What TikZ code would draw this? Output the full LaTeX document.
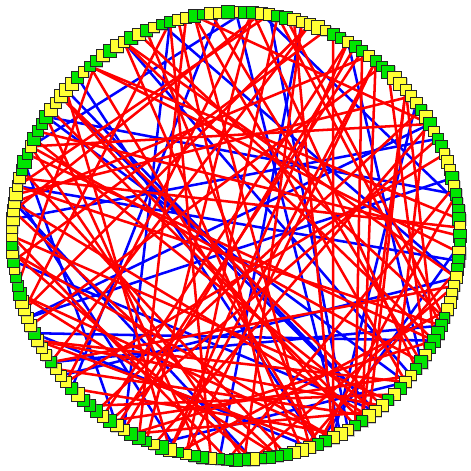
\documentclass[tikz,border=0pt]{standalone}
\usepackage{xcolor}
\usepackage{tikz}
\usetikzlibrary{backgrounds,shadows}

\definecolor{vgreen}{RGB}{0,230,0}
\definecolor{vyellow}{RGB}{255,255,51}

\begin{document}
\begin{tikzpicture}[
        vertex/.style={
            rectangle,
            draw=black!85,
            line width=0.7pt,
            inner sep=0pt,
            drop shadow={shadow xshift=0.6pt, shadow yshift=-0.6pt, opacity=0.4}
        },
        gvertex/.style={vertex, fill=vgreen},
        yvertex/.style={vertex, fill=vyellow},
        redge/.style={draw=red, line width=1.8pt},
        bedge/.style={draw=blue, line width=1.8pt}
    ]
        \useasboundingbox (-5.9,-5.875) rectangle (5.875,5.9);
        \pgfmathsetseed{4711}

        % Vertices on the ring
        \foreach \i in {1,...,168}{
            \pgfmathsetmacro{\ang}{90-360*((\i-1)/168)}
            \pgfmathtruncatemacro{\sz}{26+random(0,7)}
            \pgfmathtruncatemacro{\pick}{random(0,99)}
            \ifnum\pick<55
                \node[yvertex, minimum size=\sz mm/10] (v\i) at (\ang:5.6) {};
            \else
                \node[gvertex, minimum size=\sz mm/10] (v\i) at (\ang:5.6) {};
            \fi
        }

        % Chords behind the vertices
        \begin{pgfonlayer}{background}
            \foreach \k in {1,...,30}{
                \pgfmathtruncatemacro{\a}{random(1,168)}
                \pgfmathtruncatemacro{\b}{mod(\a+random(30,138)-1,168)+1}
                \draw[bedge] (v\a.center) -- (v\b.center);
            }
            \foreach \k in {1,...,88}{
                \pgfmathtruncatemacro{\a}{random(1,168)}
                \pgfmathtruncatemacro{\b}{mod(\a+random(30,138)-1,168)+1}
                \draw[redge] (v\a.center) -- (v\b.center);
            }
        \end{pgfonlayer}
    \end{tikzpicture}
\end{document}
